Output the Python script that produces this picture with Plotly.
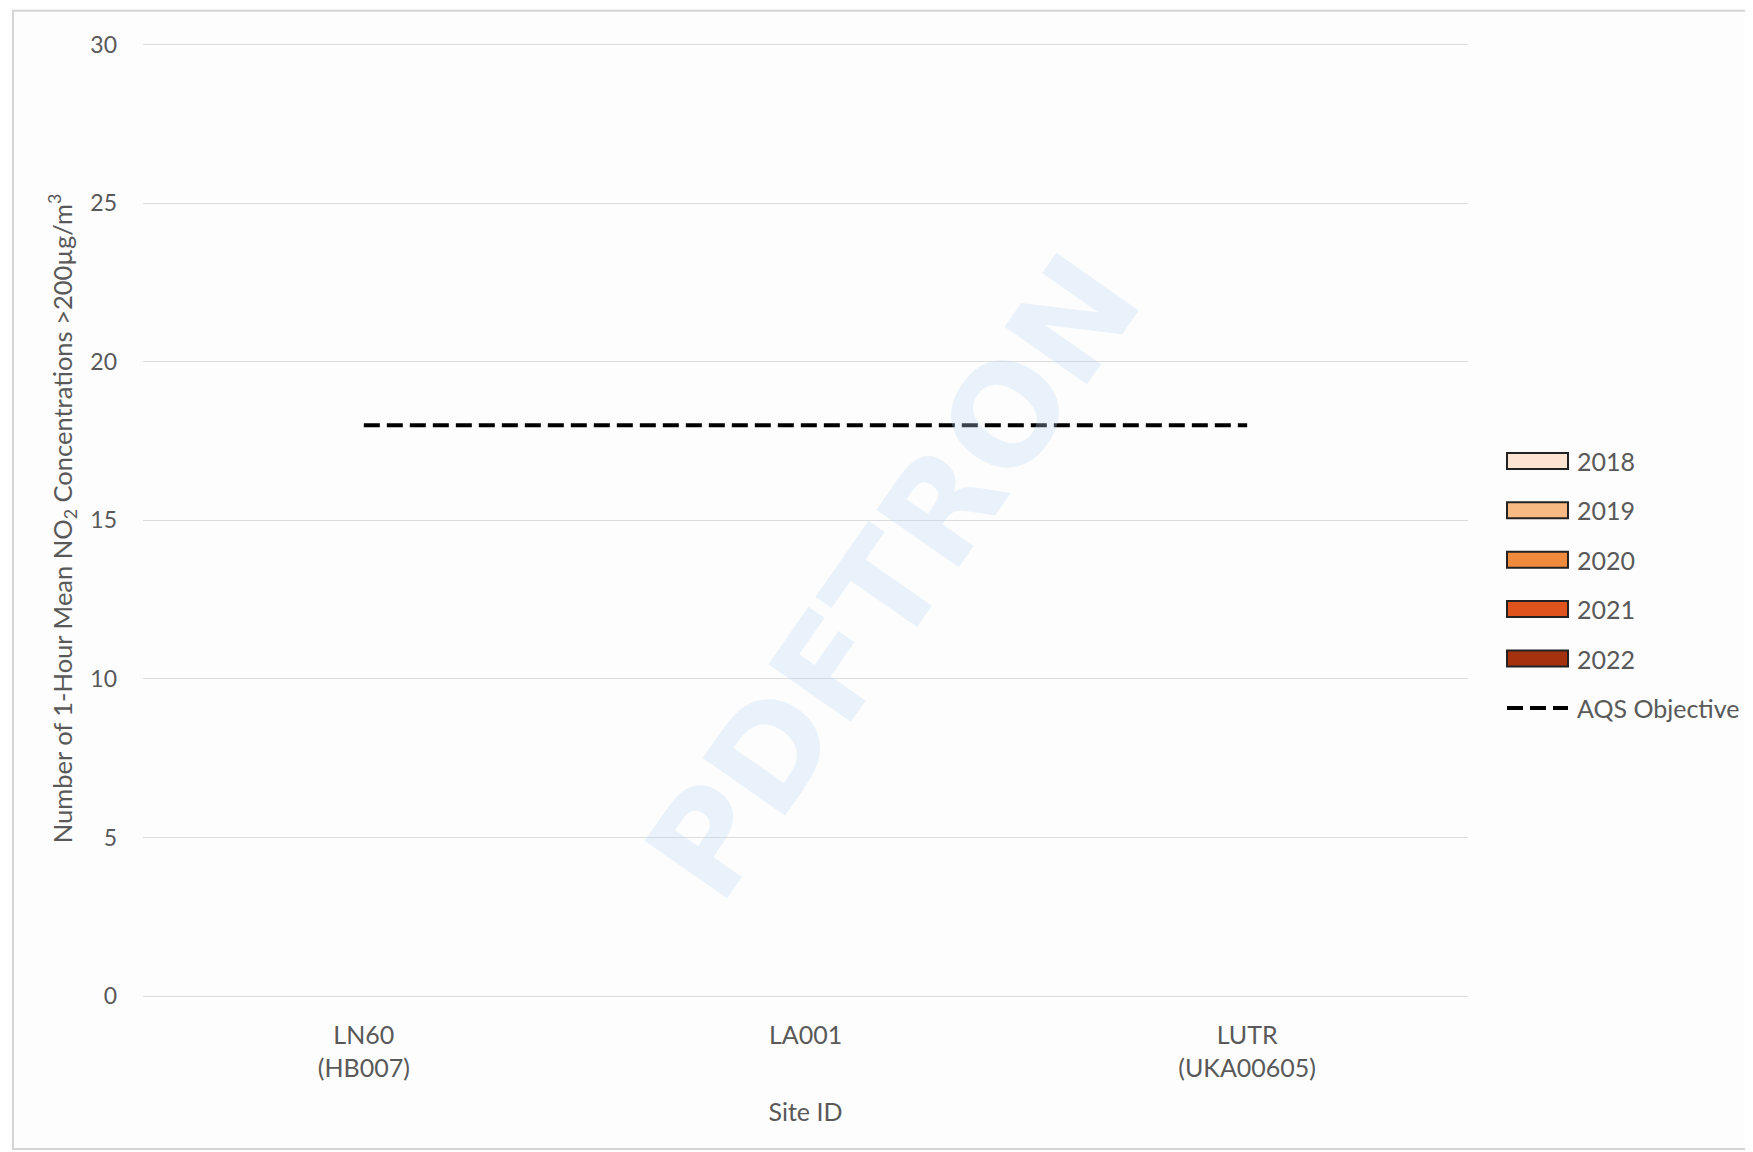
import plotly.graph_objects as go

sites = ["LN60<br>(HB007)", "LA001", "LUTR<br>(UKA00605)"]
years = ["2018", "2019", "2020", "2021", "2022"]
exceedances = {
    "2018": [0, 0, 0],
    "2019": [0, 0, 0],
    "2020": [0, 0, 0],
    "2021": [0, 0, 0],
    "2022": [0, 0, 0],
}
year_colors = ["#FCE4D0", "#F8BA83", "#F08A3C", "#E0531C", "#A6310F"]
aqs_objective = [18, 18, 18]
y_ticks = [0, 5, 10, 15, 20, 25, 30]
Y_MAX = 30.12

FONT = "Lato"
TXT = "#595959"

# plot area in page pixels (0 at 996, 30 at 45)
PX0, PX1, PY1 = 143, 1468, 996
PH = 951 * Y_MAX / 30
PY0 = PY1 - PH
PW = PX1 - PX0


def px(x):
    return (x - PX0) / PW


def py(y):
    return (PY1 - y) / PH


DASH = "16px,7px"

fig = go.Figure()
for yr, col in zip(years, year_colors):
    fig.add_trace(go.Bar(x=sites, y=exceedances[yr], name=yr,
                         marker=dict(color=col, line=dict(width=0)),
                         showlegend=False))
fig.add_trace(go.Scatter(x=sites, y=aqs_objective, mode="lines", name="AQS Objective",
                         line=dict(color="black", width=4, dash=DASH),
                         showlegend=False))

# manual legend (wide boxes like the original)
leg_y0 = 461
step = 49.4
for i, (yr, col) in enumerate(zip(years, year_colors)):
    yc = leg_y0 + i * step
    fig.add_shape(type="rect", xref="paper", yref="paper",
                  x0=px(1507), x1=px(1568), y0=py(yc - 8), y1=py(yc + 8),
                  fillcolor=col, line=dict(color="#222", width=2))
    fig.add_annotation(xref="paper", yref="paper", x=px(1575), y=py(yc),
                       text=yr, showarrow=False, xanchor="left", yanchor="middle",
                       font=dict(family=FONT, size=25, color=TXT))
yc = leg_y0 + 5 * step
fig.add_shape(type="line", xref="paper", yref="paper",
              x0=px(1507), x1=px(1568), y0=py(yc), y1=py(yc),
              line=dict(color="black", width=4, dash=DASH))
fig.add_annotation(xref="paper", yref="paper", x=px(1575), y=py(yc),
                   text="AQS Objective", showarrow=False, xanchor="left", yanchor="middle",
                   font=dict(family=FONT, size=25, color=TXT))

# outer chart border
fig.add_shape(type="rect", xref="paper", yref="paper",
              x0=px(13), x1=px(1775), y0=py(1149), y1=py(11),
              line=dict(color="#d4d4d4", width=2), fillcolor="rgba(0,0,0,0)",
              layer="below")

# watermark
fig.add_annotation(xref="paper", yref="paper", x=px(894), y=py(578),
                   text="<b>PDFTRON</b>", showarrow=False, textangle=-55,
                   font=dict(family="DejaVu Sans", size=138, color="rgba(190,220,245,0.3)"))

fig.update_layout(
    width=1753, height=1152,
    margin=dict(l=PX0 - 8, r=1753 - PX1 + 8, t=PY0 - 8, b=1152 - PY1 + 8),
    paper_bgcolor="#fdfdfd", plot_bgcolor="#fdfdfd",
    barmode="group",
    font=dict(family=FONT, color=TXT),
    showlegend=False,
)
fig.update_xaxes(
    title=dict(text="Site ID", font=dict(family=FONT, size=25, color=TXT), standoff=22),
    tickfont=dict(family=FONT, size=25, color=TXT),
    ticklabelstandoff=22,
    showgrid=False, showline=False, zeroline=False, ticks="",
)
fig.update_yaxes(
    range=[0, Y_MAX], tickvals=y_ticks,
    tickfont=dict(family=FONT, size=23, color=TXT),
    ticklabelstandoff=25,
    title=dict(text="Number of 1-Hour Mean NO<sub>2</sub> Concentrations >200µg/m<sup>3</sup>",
               font=dict(family=FONT, size=25.5, color=TXT), standoff=10),
    showgrid=True, gridcolor="#dcdcdc", gridwidth=1,
    zeroline=True, zerolinecolor="#dcdcdc", zerolinewidth=1,
    showline=False, ticks="",
)

fig.write_html("out.html")
